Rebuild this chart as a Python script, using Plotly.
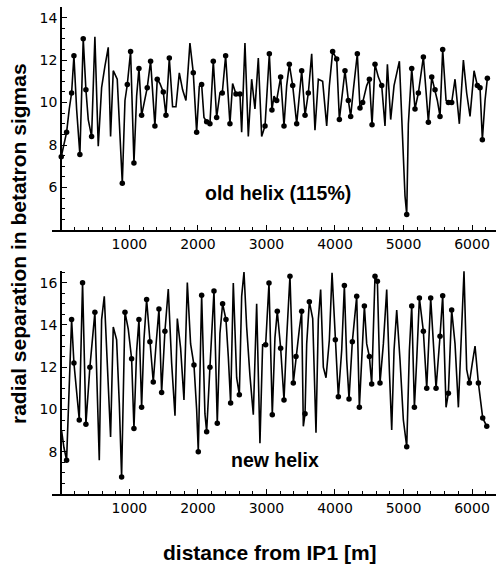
import plotly.graph_objects as go

# ---------------- data ----------------
top_x = [5, 83, 122, 156, 190, 229, 277, 326, 365, 399, 448, 496, 545, 594, 642, 691, 725, 764, 822, 861,
         896, 935, 969, 1017, 1066, 1105, 1139, 1178, 1226, 1260, 1309, 1372, 1406, 1445, 1494, 1533, 1582,
         1630, 1679, 1728, 1776, 1825, 1883, 1932, 1981, 2020, 2054, 2088, 2127, 2175, 2224, 2273, 2321,
         2355, 2404, 2467, 2506, 2555, 2613, 2638, 2686, 2735, 2784, 2832, 2881, 2930, 2979, 3042, 3080,
         3110, 3149, 3207, 3256, 3295, 3334, 3383, 3441, 3480, 3514, 3563, 3611, 3660, 3708, 3757, 3820,
         3879, 3918, 3966, 4025, 4064, 4098, 4146, 4195, 4229, 4268, 4326, 4365, 4404, 4463, 4502, 4541,
         4584, 4633, 4682, 4730, 4765, 4813, 4862, 4940, 4988, 5022, 5047, 5071, 5120, 5168, 5217, 5290,
         5339, 5363, 5412, 5460, 5494, 5533, 5572, 5621, 5655, 5703, 5752, 5815, 5874, 5922, 5971, 6030,
         6078, 6117, 6151, 6190, 6224]
top_y = [7.45, 8.6, 9.7, 10.45, 12.2, 9.7, 7.55, 13.0, 10.6, 9.2, 8.4, 13.1, 7.95, 10.7, 11.7, 12.6, 8.4,
         11.5, 11.1, 8.1, 6.2, 10.1, 10.85, 12.4, 7.16, 10.3, 11.6, 9.4, 10.1, 10.7, 11.95, 8.9, 11.1, 10.9,
         10.5, 9.4, 12.1, 9.8, 9.8, 11.4, 10.6, 10.1, 12.8, 11.4, 8.6, 10.77, 10.85, 9.3, 9.1, 9.0, 11.95,
         9.3, 10.45, 10.45, 12.2, 9.0, 10.9, 10.4, 10.4, 8.6, 12.8, 8.4, 11.1, 9.7, 12.1, 8.4, 8.9, 12.3,
         9.65, 10.3, 10.1, 11.2, 8.9, 10.8, 11.8, 10.8, 9.0, 10.45, 11.5, 9.4, 10.45, 12.3, 8.7, 11.1, 11.0,
         8.9, 10.8, 12.4, 12.05, 9.2, 10.3, 11.5, 10.1, 9.35, 10.6, 12.3, 9.75, 10.0, 10.8, 11.1, 8.96,
         11.8, 11.2, 10.8, 8.9, 11.8, 9.2, 10.8, 11.95, 8.1, 5.6, 4.73, 9.0, 11.6, 9.7, 10.45, 12.15, 10.1,
         9.07, 11.2, 10.6, 10.1, 9.35, 12.5, 10.1, 10.0, 10.0, 11.1, 9.0, 12.0, 10.45, 9.35, 11.5, 10.8,
         10.7, 8.25, 10.1, 11.15]
top_mark = [1, 1, 0, 1, 1, 0, 1, 1, 1, 0, 1, 0, 0, 0, 0, 0, 0, 0, 0, 0, 1, 0, 1, 1, 1, 0, 1, 1, 0, 1, 1, 1,
            1, 0, 1, 1, 1, 0, 0, 0, 0, 0, 0, 1, 1, 0, 1, 0, 1, 1, 1, 1, 0, 1, 1, 1, 0, 1, 1, 0, 0, 0, 0, 0,
            0, 0, 1, 1, 1, 0, 1, 1, 1, 0, 1, 1, 1, 0, 1, 1, 1, 0, 0, 0, 0, 0, 0, 1, 1, 1, 0, 1, 1, 1, 0, 1,
            1, 1, 0, 1, 1, 1, 0, 1, 0, 0, 0, 0, 0, 0, 0, 1, 0, 1, 1, 1, 1, 0, 1, 1, 1, 0, 1, 1, 0, 1, 1, 0,
            0, 0, 0, 0, 0, 1, 1, 1, 0, 1]

bot_x = [10, 44, 83, 122, 156, 190, 229, 268, 316, 365, 423, 496, 560, 594, 633, 676, 725, 764, 813, 852,
         886, 935, 983, 1032, 1066, 1105, 1139, 1178, 1212, 1251, 1299, 1348, 1387, 1431, 1470, 1518, 1567,
         1616, 1665, 1699, 1747, 1796, 1845, 1893, 1942, 1981, 2005, 2054, 2102, 2127, 2175, 2234, 2282,
         2321, 2360, 2409, 2443, 2477, 2516, 2565, 2604, 2638, 2672, 2711, 2759, 2808, 2857, 2905, 2944,
         2988, 3037, 3085, 3124, 3158, 3207, 3256, 3295, 3343, 3392, 3431, 3480, 3514, 3538, 3563, 3587,
         3626, 3675, 3723, 3757, 3791, 3830, 3869, 3918, 3957, 4005, 4049, 4098, 4137, 4171, 4205, 4253,
         4317, 4356, 4390, 4429, 4463, 4502, 4536, 4584, 4619, 4657, 4706, 4755, 4793, 4828, 4862, 4901,
         4949, 4998, 5047, 5086, 5120, 5159, 5193, 5232, 5290, 5339, 5397, 5436, 5475, 5533, 5572, 5621,
         5655, 5703, 5752, 5801, 5835, 5883, 5922, 5961, 6005, 6044, 6093, 6127, 6156, 6215]
bot_y = [9.0, 8.2, 7.6, 11.4, 14.25, 12.2, 10.9, 9.5, 16.0, 9.3, 12.0, 14.6, 7.6, 14.25, 15.35, 12.0, 8.7,
         13.9, 13.3, 10.3, 6.8, 14.6, 13.8, 12.4, 9.1, 12.75, 14.25, 10.1, 13.3, 15.2, 13.2, 11.3, 13.0,
         14.75, 10.8, 13.7, 15.7, 12.2, 9.7, 14.3, 12.9, 10.45, 16.0, 13.1, 12.1, 10.0, 8.0, 15.4, 9.8,
         8.95, 12.0, 15.6, 9.35, 13.6, 15.0, 14.25, 12.5, 10.3, 15.98, 11.5, 10.7, 15.35, 16.5, 13.9, 11.6,
         9.75, 15.0, 8.4, 13.06, 13.06, 15.98, 9.75, 13.4, 14.64, 12.9, 10.45, 13.4, 16.3, 11.25, 12.5,
         13.8, 14.64, 9.2, 9.8, 13.1, 15.1, 14.3, 8.9, 14.25, 15.67, 12.0, 11.5, 13.3, 16.46, 13.3, 10.6,
         12.8, 15.86, 12.35, 10.5, 13.2, 15.35, 10.1, 12.67, 14.9, 13.1, 12.5, 11.2, 16.3, 16.06, 11.25,
         13.1, 15.67, 11.9, 9.03, 12.8, 14.7, 12.35, 9.5, 8.24, 12.8, 14.9, 10.1, 12.35, 15.27, 13.7, 11.0,
         15.27, 13.1, 11.0, 13.46, 15.38, 10.1, 10.77, 14.7, 13.1, 10.1, 12.5, 16.54, 11.9, 11.25, 12.2,
         13.0, 11.25, 10.3, 9.6, 9.2]
bot_mark = [0, 0, 1, 0, 1, 1, 0, 1, 1, 1, 1, 1, 0, 0, 0, 0, 0, 0, 0, 0, 1, 1, 0, 1, 1, 0, 1, 1, 0, 1, 1, 1,
            0, 1, 1, 1, 0, 0, 0, 0, 0, 0, 0, 0, 1, 0, 1, 1, 0, 1, 1, 1, 1, 0, 1, 1, 0, 1, 0, 0, 1, 0, 0, 0,
            0, 0, 0, 0, 0, 1, 1, 1, 0, 1, 1, 1, 0, 1, 1, 1, 0, 1, 0, 1, 0, 1, 0, 0, 0, 0, 0, 0, 0, 0, 1, 1,
            0, 1, 0, 1, 1, 1, 1, 0, 1, 0, 1, 1, 1, 1, 1, 0, 0, 0, 0, 0, 0, 0, 0, 1, 0, 1, 1, 0, 1, 1, 1, 1,
            0, 1, 1, 1, 0, 1, 1, 0, 0, 0, 0, 0, 1, 0, 0, 1, 0, 1, 1]

x_ticks = [1000, 2000, 3000, 4000, 5000, 6000]
top_yticks = [6, 8, 10, 12, 14]
bot_yticks = [8, 10, 12, 14, 16]
y_title = "radial separation in betatron sigmas"
x_title = "distance from IP1 [m]"
top_label = "old helix (115%)"
bot_label = "new helix"

# ---------------- layout geometry ----------------
W, H = 496, 576
X_RANGE = [-130, 6350]
x_dom = [52 / W, 1.0]
top_dom = [1 - 230 / H, 1 - 7 / H]
bot_dom = [1 - 494 / H, 1 - 271 / H]
top_range = [4.0, 14.5]
bot_range = [6.0, 16.55]
# place y axis at x = 0
yaxis_pos = x_dom[0] + (0 - X_RANGE[0]) / (X_RANGE[1] - X_RANGE[0]) * (x_dom[1] - x_dom[0])

tickfont = dict(family="DejaVu Sans", size=14, color="black")
titlefont = dict(family="Liberation Sans", size=21, color="black", weight="bold")
labelfont = dict(family="Liberation Sans", size=19.5, color="black", weight="bold")

fig = go.Figure()

def add_panel(xs, ys, marks, xa, ya):
    fig.add_trace(go.Scatter(x=xs, y=ys, mode="lines", line=dict(color="black", width=1.6),
                             xaxis=xa, yaxis=ya, showlegend=False, hoverinfo="skip"))
    mx = [x for x, m in zip(xs, marks) if m]
    my = [y for y, m in zip(ys, marks) if m]
    fig.add_trace(go.Scatter(x=mx, y=my, mode="markers", marker=dict(color="black", size=5.5),
                             xaxis=xa, yaxis=ya, showlegend=False, hoverinfo="skip"))

add_panel(top_x, top_y, top_mark, "x", "y")
add_panel(bot_x, bot_y, bot_mark, "x2", "y2")

def xaxis(anchor):
    return dict(domain=x_dom, range=X_RANGE, anchor=anchor, showgrid=False, zeroline=False,
                showline=True, linecolor="black", linewidth=1.5, ticks="inside", ticklen=5,
                tickcolor="black", tickvals=x_ticks, ticktext=[str(v) for v in x_ticks],
                tickfont=tickfont, minor=dict(ticks="inside", dtick=200, tick0=0, ticklen=3,
                                             tickcolor="black", showgrid=False))

def yaxis(dom, rng, ticks):
    return dict(domain=dom, range=rng, anchor="free", position=yaxis_pos, showgrid=False,
                zeroline=False, showline=True, linecolor="black", linewidth=1.5, ticks="inside",
                ticklen=5, tickcolor="black", tickvals=ticks, ticktext=[str(v) for v in ticks],
                tickfont=tickfont, minor=dict(ticks="inside", dtick=0.5, tick0=0, ticklen=3,
                                             tickcolor="black", showgrid=False))

fig.update_layout(
    width=W, height=H, margin=dict(l=0, r=0, t=0, b=0),
    paper_bgcolor="white", plot_bgcolor="white",
    xaxis=xaxis("y"), yaxis=yaxis(top_dom, top_range, top_yticks),
    xaxis2=xaxis("y2"), yaxis2=yaxis(bot_dom, bot_range, bot_yticks),
    annotations=[
        dict(text=y_title, xref="paper", yref="paper", x=18 / W, y=1 - 244 / H, textangle=-90,
             showarrow=False, font=titlefont, xanchor="center", yanchor="middle"),
        dict(text=x_title, xref="paper", yref="paper", x=270 / W, y=1 - 552 / H,
             showarrow=False, font=titlefont, xanchor="center", yanchor="middle"),
        dict(text=top_label, xref="paper", yref="paper", x=278 / W, y=1 - 193 / H,
             showarrow=False, font=labelfont, xanchor="center", yanchor="middle"),
        dict(text=bot_label, xref="paper", yref="paper", x=275 / W, y=1 - 460 / H,
             showarrow=False, font=labelfont, xanchor="center", yanchor="middle"),
    ],
)

fig.write_html("out.html")
